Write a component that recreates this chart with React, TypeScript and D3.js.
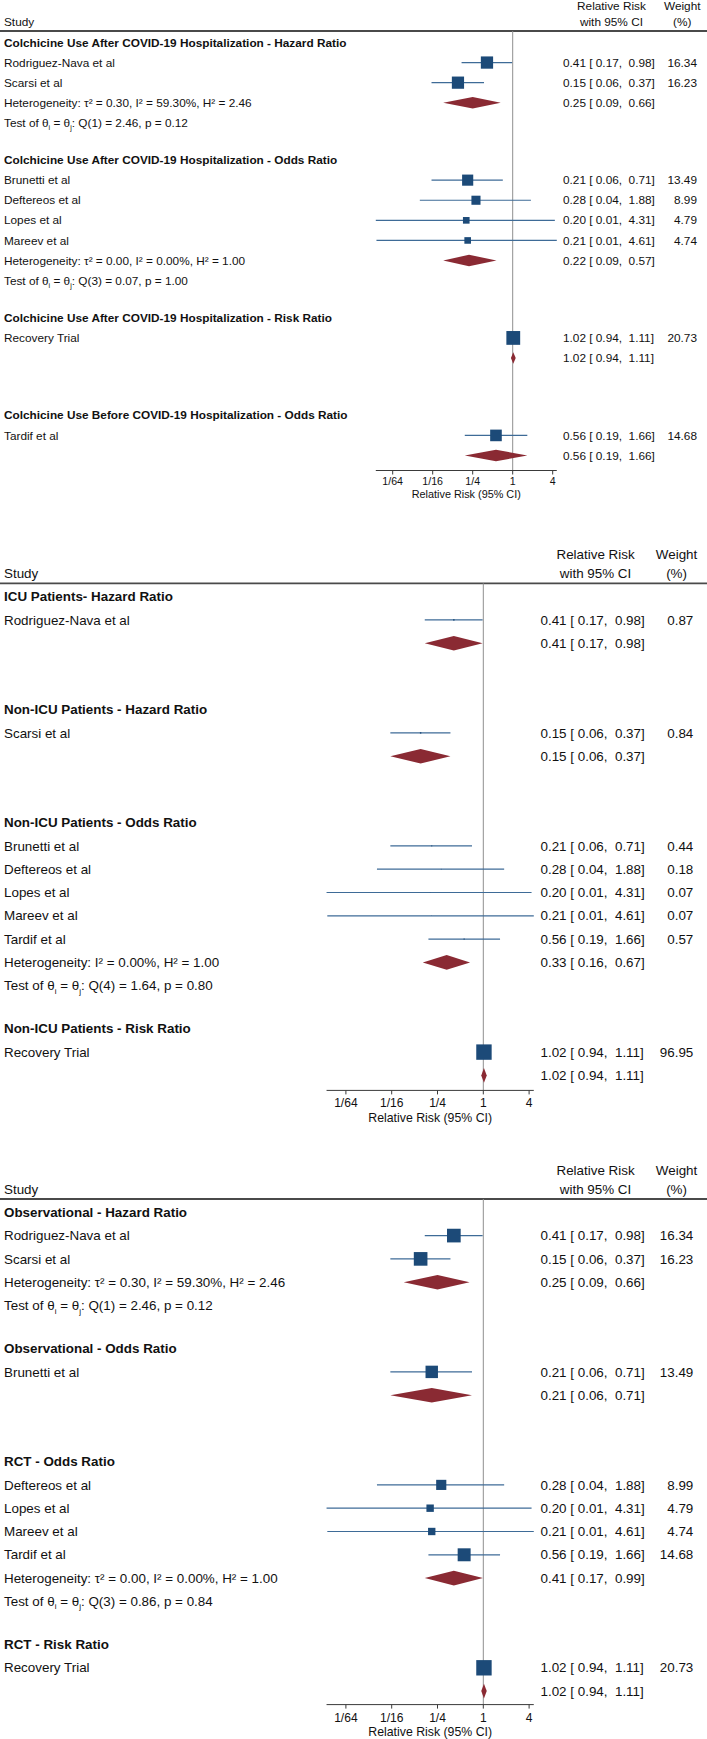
import React from "react";
import * as d3 from "d3";

// ---------- shared study data ----------
const studyNames = [
  "Rodriguez-Nava et al",
  "Scarsi et al",
  "Brunetti et al",
  "Deftereos et al",
  "Lopes et al",
  "Mareev et al",
  "Tardif et al",
  "Recovery Trial",
];
const studyEst = [0.41, 0.15, 0.21, 0.28, 0.2, 0.21, 0.56, 1.02];
const studyLo = [0.17, 0.06, 0.06, 0.04, 0.0087, 0.0089, 0.19, 0.94];
const studyHi = [0.98, 0.37, 0.71, 1.88, 4.31, 4.61, 1.66, 1.11];

const tickValues = [1 / 64, 1 / 16, 1 / 4, 1, 4];
const tickLabels = ["1/64", "1/16", "1/4", "1", "4"];

// ---------- panel 1 ----------
const p1Titles = [
  "Colchicine Use After COVID-19 Hospitalization - Hazard Ratio",
  "Colchicine Use After COVID-19 Hospitalization - Odds Ratio",
  "Colchicine Use After COVID-19 Hospitalization - Risk Ratio",
  "Colchicine Use Before COVID-19 Hospitalization - Odds Ratio",
];
const p1Members = [[0, 1], [2, 3, 4, 5], [7], [6]];
const p1Weights = [16.34, 16.23, 13.49, 8.99, 4.79, 4.74, 14.68, 20.73];
const p1PooledEst = [0.25, 0.22, 1.02, 0.56];
const p1PooledLo = [0.09, 0.09, 0.94, 0.19];
const p1PooledHi = [0.66, 0.57, 1.11, 1.66];
const p1Het = [
  "Heterogeneity: τ² = 0.30, I² = 59.30%, H² = 2.46",
  "Heterogeneity: τ² = 0.00, I² = 0.00%, H² = 1.00",
  "",
  "",
];
const p1Q = ["Q(1) = 2.46, p = 0.12", "Q(3) = 0.07, p = 1.00", "", ""];

// ---------- panel 2 ----------
const p2Titles = [
  "ICU Patients- Hazard Ratio",
  "Non-ICU Patients - Hazard Ratio",
  "Non-ICU Patients - Odds Ratio",
  "Non-ICU Patients - Risk Ratio",
];
const p2Members = [[0], [1], [2, 3, 4, 5, 6], [7]];
const p2Weights = [0.87, 0.84, 0.44, 0.18, 0.07, 0.07, 0.57, 96.95];
const p2PooledEst = [0.41, 0.15, 0.33, 1.02];
const p2PooledLo = [0.17, 0.06, 0.16, 0.94];
const p2PooledHi = [0.98, 0.37, 0.67, 1.11];
const p2Het = ["", "", "Heterogeneity: I² = 0.00%, H² = 1.00", ""];
const p2Q = ["", "", "Q(4) = 1.64, p = 0.80", ""];

// ---------- panel 3 ----------
const p3Titles = [
  "Observational - Hazard Ratio",
  "Observational - Odds Ratio",
  "RCT - Odds Ratio",
  "RCT - Risk Ratio",
];
const p3Members = [[0, 1], [2], [3, 4, 5, 6], [7]];
const p3Weights = [16.34, 16.23, 13.49, 8.99, 4.79, 4.74, 14.68, 20.73];
const p3PooledEst = [0.25, 0.21, 0.41, 1.02];
const p3PooledLo = [0.09, 0.06, 0.17, 0.94];
const p3PooledHi = [0.66, 0.71, 0.99, 1.11];
const p3Het = [
  "Heterogeneity: τ² = 0.30, I² = 59.30%, H² = 2.46",
  "",
  "Heterogeneity: τ² = 0.00, I² = 0.00%, H² = 1.00",
  "",
];
const p3Q = ["Q(1) = 2.46, p = 0.12", "", "Q(3) = 0.86, p = 0.84", ""];

// ---------- styling / layout ----------
const FONT = "'Liberation Sans', Arial, Helvetica, sans-serif";
const BOX = "#1c4a78";
const CILINE = "#3e6b97";
const DIAMOND = "#8a2a33";
const TEXT = "#111111";

const panels = [
  {
    titles: p1Titles, members: p1Members, weights: p1Weights,
    pEst: p1PooledEst, pLo: p1PooledLo, pHi: p1PooledHi, het: p1Het, q: p1Q,
    hy: 31, u: 20.1, font: 11.8, nullX: 512.7, unit: 20, ciX: 563, wX: 697,
    boxMax: 13.8, diamondH: 11.5, axisGap: 15,
  },
  {
    titles: p2Titles, members: p2Members, weights: p2Weights,
    pEst: p2PooledEst, pLo: p2PooledLo, pHi: p2PooledHi, het: p2Het, q: p2Q,
    hy: 583.3, u: 23.3, font: 13.4, nullX: 483.3, unit: 22.9, ciX: 540.5, wX: 693.3,
    boxMax: 15.4, diamondH: 14.6, axisGap: 15,
  },
  {
    titles: p3Titles, members: p3Members, weights: p3Weights,
    pEst: p3PooledEst, pLo: p3PooledLo, pHi: p3PooledHi, het: p3Het, q: p3Q,
    hy: 1199, u: 23.3, font: 13.4, nullX: 483.3, unit: 22.9, ciX: 540.5, wX: 693.3,
    boxMax: 15.4, diamondH: 14.6, axisGap: 13.5,
  },
];

const f2 = (v: number) => v.toFixed(2);
const pad5 = (v: number) => f2(v).padStart(5, " ");
const ciText = (e: number, lo: number, hi: number) => `${f2(e)} [${pad5(lo)}, ${pad5(hi)}]`;

function Panel({ p }: { p: any }) {
  const { u, font } = p;
  const all = p.members.flat();
  const xmin = d3.min(all, (i: number) => studyLo[i]) as number;
  const xmax = d3.max(all, (i: number) => studyHi[i]) as number;
  const x = d3
    .scaleLog()
    .base(2)
    .domain([xmin, xmax])
    .range([p.nullX + p.unit * Math.log2(xmin), p.nullX + p.unit * Math.log2(xmax)]);
  const wmax = d3.max(all, (i: number) => p.weights[i]) as number;

  const rows: any[] = [];
  let cursor = p.hy + 0.57 * u;
  p.members.forEach((mem: number[], gi: number) => {
    const last = gi === p.members.length - 1;
    rows.push({ type: "title", gi, y: cursor });
    cursor += u;
    mem.forEach((si) => {
      rows.push({ type: "study", si, y: cursor });
      cursor += u;
    });
    rows.push({ type: "pooled", gi, y: cursor });
    cursor += u;
    if (!last) {
      rows.push({ type: "test", gi, y: cursor });
      cursor += u;
      cursor += 0.85 * u;
    }
  });
  const lastY = rows[rows.length - 1].y;
  const axisY = lastY + p.axisGap;
  const ciCenter = p.ciX + (ciText(0.41, 0.17, 0.98).length * 0.4324 * font) / 2;
  const wCenter = p.wX - 1.25 * font;
  const withY = p.hy - 0.43 * u;
  const relY = withY - 0.82 * u;
  const [r0, r1] = x.range();
  const sub = 0.25 * font;

  return (
    <g fontFamily={FONT} fontSize={font} fill={TEXT}>
      {/* header */}
      <text x={ciCenter} y={relY} dy="0.35em" textAnchor="middle">Relative Risk</text>
      <text x={ciCenter} y={withY} dy="0.35em" textAnchor="middle">with 95% CI</text>
      <text x={wCenter} y={relY} dy="0.35em" textAnchor="middle">Weight</text>
      <text x={wCenter} y={withY} dy="0.35em" textAnchor="middle">(%)</text>
      <text x={4} y={withY} dy="0.35em">Study</text>
      <line x1={0} x2={707} y1={p.hy} y2={p.hy} stroke="#4a4a4a" strokeWidth={1.8} />
      {/* null line */}
      <line x1={x(1)} x2={x(1)} y1={p.hy} y2={axisY} stroke="#8f8f8f" strokeWidth={1} />

      {rows.map((r, k) => {
        if (r.type === "title") {
          return (
            <text key={k} x={4} y={r.y} dy="0.35em" fontWeight="bold">
              {p.titles[r.gi]}
            </text>
          );
        }
        if (r.type === "study") {
          const i = r.si;
          const s = p.boxMax * Math.sqrt(p.weights[i] / wmax);
          return (
            <g key={k}>
              <text x={4} y={r.y} dy="0.35em">{studyNames[i]}</text>
              <line x1={x(studyLo[i])} x2={x(studyHi[i])} y1={r.y} y2={r.y} stroke={CILINE} strokeWidth={1.2} />
              <rect x={x(studyEst[i]) - s / 2} y={r.y - s / 2} width={s} height={s} fill={BOX} />
              <text x={p.ciX} y={r.y} dy="0.35em" style={{ whiteSpace: "pre" }}>
                {ciText(studyEst[i], studyLo[i], studyHi[i])}
              </text>
              <text x={p.wX} y={r.y} dy="0.35em" textAnchor="end">{f2(p.weights[i])}</text>
            </g>
          );
        }
        if (r.type === "pooled") {
          const g = r.gi;
          const h = p.diamondH / 2;
          const pts = [
            [x(p.pLo[g]), r.y],
            [x(p.pEst[g]), r.y - h],
            [x(p.pHi[g]), r.y],
            [x(p.pEst[g]), r.y + h],
          ]
            .map((d) => d.join(","))
            .join(" ");
          return (
            <g key={k}>
              {p.het[g] ? (
                <text x={4} y={r.y} dy="0.35em">{p.het[g]}</text>
              ) : null}
              <polygon points={pts} fill={DIAMOND} />
              <text x={p.ciX} y={r.y} dy="0.35em" style={{ whiteSpace: "pre" }}>
                {ciText(p.pEst[g], p.pLo[g], p.pHi[g])}
              </text>
            </g>
          );
        }
        if (r.type === "test") {
          const g = r.gi;
          if (!p.q[g]) return null;
          return (
            <text key={k} x={4} y={r.y} dy="0.35em">
              Test of θ
              <tspan dy={sub} fontSize={font * 0.6}>i</tspan>
              <tspan dy={-sub}> = θ</tspan>
              <tspan dy={sub} fontSize={font * 0.6}>j</tspan>
              <tspan dy={-sub}>: {p.q[g]}</tspan>
            </text>
          );
        }
        return null;
      })}

      {/* axis */}
      <line x1={r0} x2={r1} y1={axisY} y2={axisY} stroke="#3a3a3a" strokeWidth={1} />
      {tickValues.map((t, k) => (
        <g key={k}>
          <line x1={x(t)} x2={x(t)} y1={axisY} y2={axisY + 4} stroke="#3a3a3a" strokeWidth={1} />
          <text x={x(t)} y={axisY + 0.95 * font} dy="0.35em" textAnchor="middle" fontSize={font * 0.9}>
            {tickLabels[k]}
          </text>
        </g>
      ))}
      <text x={(r0 + r1) / 2} y={axisY + 2.0 * font} dy="0.35em" textAnchor="middle" fontSize={font * 0.92}>
        Relative Risk (95% CI)
      </text>
    </g>
  );
}

export default function App() {
  return (
    <svg
      width={707}
      height={1739}
      style={{ position: "absolute", left: 0, top: 0, background: "#ffffff" }}
    >
      <rect x={0} y={0} width={707} height={1739} fill="#ffffff" />
      {panels.map((p, i) => (
        <Panel key={i} p={p} />
      ))}
    </svg>
  );
}
